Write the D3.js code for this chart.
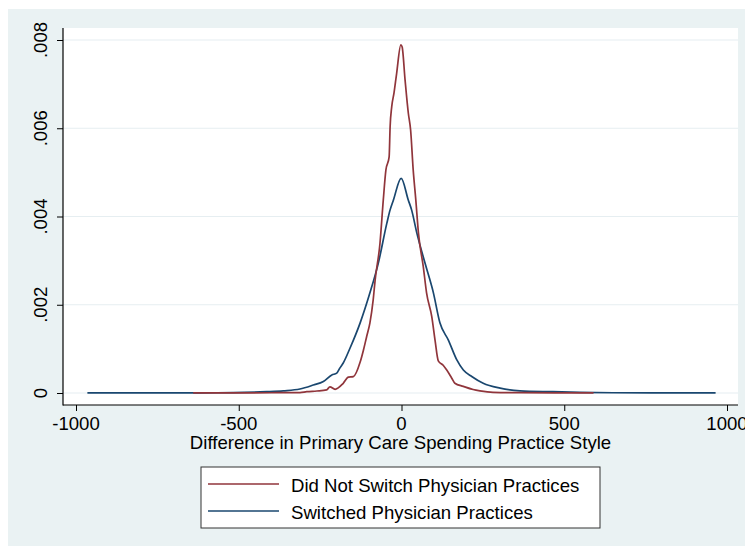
<!DOCTYPE html>
<html>
<head>
<meta charset="utf-8">
<script src="https://cdn.jsdelivr.net/npm/d3@7"></script>
<style>
  body { margin: 0; background: #fff; }
  text { font-family: "Liberation Sans", Arial, Helvetica, sans-serif; fill: #000; }
</style>
</head>
<body>
<div id="chart"></div>
<script>
// Kernel density estimates
const notSwitchedX = [-640, -500, -400, -312, -291, -260, -230, -220, -204, -179, -163, -148, -127, -117, -107, -97, -87, -81, -66, -56, -48, -38, -35, -30, -23, -15, -2, 2, 11, 21, 28, 36, 44, 52, 67, 77, 93, 103, 113, 128, 139, 154, 164, 190, 220, 241, 281, 364, 470, 590];
const notSwitchedY = [0.000002, 0.000004, 0.000006, 0.00001, 0.00003, 0.000045, 0.00007, 0.00014, 0.000084, 0.00022, 0.00036, 0.00037, 0.0007, 0.00097, 0.00128, 0.00159, 0.00211, 0.00256, 0.0034, 0.00437, 0.00505, 0.00535, 0.00603, 0.00649, 0.0068, 0.00724, 0.00789, 0.00784, 0.00709, 0.00634, 0.00596, 0.00505, 0.00437, 0.00363, 0.00286, 0.00227, 0.00173, 0.0012, 0.00073, 0.00063, 0.00052, 0.00034, 0.00022, 0.00015, 0.00008, 0.00005, 0.000016, 0.000007, 0.000005, 0.000003];

const switchedX = [-965, -800, -619, -517, -414, -363, -312, -271, -240, -214, -199, -189, -179, -158, -127, -97, -71, -45, -35, -25, -1, 21, 31, 47, 72, 98, 118, 144, 170, 190, 217, 251, 303, 364, 465, 548, 650, 800, 965];
const switchedY = [0.000002, 0.000003, 0.000005, 0.000008, 0.00003, 0.00005, 0.00009, 0.00018, 0.00026, 0.00041, 0.00045, 0.00057, 0.00068, 0.00102, 0.00159, 0.00227, 0.00295, 0.00385, 0.00415, 0.00437, 0.004865, 0.00437, 0.00415, 0.00363, 0.00295, 0.00227, 0.00159, 0.0012, 0.00075, 0.00052, 0.00037, 0.00022, 0.00011, 0.00005, 0.00003, 0.000016, 0.000006, 0.000003, 0.000002];

const xTicks = [-1000, -500, 0, 500, 1000];
const yTicks = [0, 0.002, 0.004, 0.006, 0.008];
const xTitle = "Difference in Primary Care Spending Practice Style";
const legendLabels = ["Did Not Switch Physician Practices", "Switched Physician Practices"];

const width = 745, height = 546;
const red = "#90353b", blue = "#1a476f";
const plot = { left: 63, top: 28, right: 738, bottom: 405 };
const fontSize = "18.6px";

const svg = d3.select("#chart").append("svg")
    .attr("width", width)
    .attr("height", height);

// outer background
svg.append("rect")
    .attr("x", 8).attr("y", 9)
    .attr("width", width - 8).attr("height", height - 9)
    .attr("fill", "#eaf2f3");

// plot region
svg.append("rect")
    .attr("x", plot.left).attr("y", plot.top)
    .attr("width", plot.right - plot.left).attr("height", plot.bottom - plot.top)
    .attr("fill", "#fff");

const x = d3.scaleLinear().domain([-1000, 1000]).range([76, 727]);
const y = d3.scaleLinear().domain([0, 0.008]).range([393, 40]);

// gridlines
svg.append("g")
    .selectAll("line")
    .data(yTicks)
    .enter().append("line")
    .attr("x1", plot.left).attr("x2", plot.right)
    .attr("y1", d => y(d)).attr("y2", d => y(d))
    .attr("stroke", "#e6eef1")
    .attr("stroke-width", 1.2);

// y axis
const yAxis = svg.append("g")
    .attr("transform", `translate(${plot.left},0)`)
    .call(d3.axisLeft(y).tickValues(yTicks).tickSize(6).tickFormat(d => ""));
yAxis.select(".domain").remove();
yAxis.selectAll(".tick line").attr("stroke", "#000");

svg.append("g")
    .selectAll("text")
    .data(yTicks)
    .enter().append("text")
    .attr("transform", d => `translate(46.5,${y(d)}) rotate(-90)`)
    .attr("text-anchor", "middle")
    .style("font-size", fontSize)
    .text(d => d === 0 ? "0" : d3.format(".3f")(d).replace(/^0/, ""));

// x axis
const xAxis = svg.append("g")
    .attr("transform", `translate(0,${plot.bottom})`)
    .call(d3.axisBottom(x).tickValues(xTicks).tickSize(6).tickFormat(d => ""));
xAxis.select(".domain").remove();
xAxis.selectAll(".tick line").attr("stroke", "#000");

svg.append("g")
    .selectAll("text")
    .data(xTicks)
    .enter().append("text")
    .attr("x", d => x(d))
    .attr("y", 429.5)
    .attr("text-anchor", "middle")
    .style("font-size", fontSize)
    .text(d => String(d));

// axis lines
svg.append("line")
    .attr("x1", plot.left).attr("x2", plot.left)
    .attr("y1", plot.top).attr("y2", plot.bottom + 0.5)
    .attr("stroke", "#000").attr("stroke-width", 1.2);
svg.append("line")
    .attr("x1", plot.left).attr("x2", plot.right)
    .attr("y1", plot.bottom).attr("y2", plot.bottom)
    .attr("stroke", "#000").attr("stroke-width", 1.2);

// axis title
svg.append("text")
    .attr("x", (plot.left + plot.right) / 2)
    .attr("y", 448.5)
    .attr("text-anchor", "middle")
    .style("font-size", fontSize)
    .text(xTitle);

// density lines
const line = d3.line()
    .x(d => x(d[0]))
    .y(d => y(d[1]))
    .curve(d3.curveMonotoneX);

svg.append("path")
    .datum(d3.zip(switchedX, switchedY))
    .attr("d", line)
    .attr("fill", "none")
    .attr("stroke", blue)
    .attr("stroke-width", 1.7)
    .attr("stroke-linejoin", "round");

svg.append("path")
    .datum(d3.zip(notSwitchedX, notSwitchedY))
    .attr("d", line)
    .attr("fill", "none")
    .attr("stroke", red)
    .attr("stroke-width", 1.7)
    .attr("stroke-linejoin", "round");

// legend
const legend = svg.append("g");
legend.append("rect")
    .attr("x", 201).attr("y", 467)
    .attr("width", 399).attr("height", 61)
    .attr("fill", "#fff")
    .attr("stroke", "#333")
    .attr("stroke-width", 1);

const legendColors = [red, blue];
legendLabels.forEach((label, i) => {
    const cy = 484 + i * 27;
    legend.append("line")
        .attr("x1", 208).attr("x2", 279)
        .attr("y1", cy).attr("y2", cy)
        .attr("stroke", legendColors[i])
        .attr("stroke-width", 1.7);
    legend.append("text")
        .attr("x", 291)
        .attr("y", cy + 7.5)
        .style("font-size", fontSize)
        .text(label);
});
</script>
</body>
</html>
